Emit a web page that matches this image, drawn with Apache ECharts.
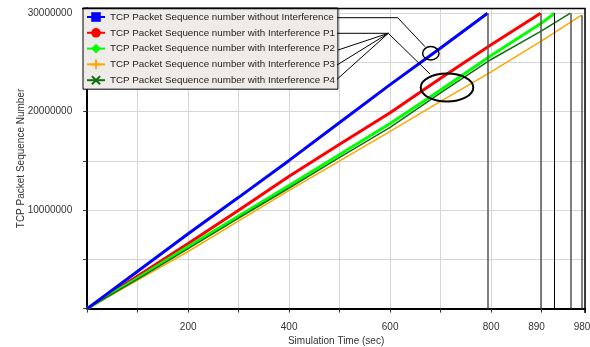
<!DOCTYPE html>
<html><head><meta charset="utf-8">
<script src="https://cdn.jsdelivr.net/npm/echarts@6/dist/echarts.min.js"></script>
<style>html,body{margin:0;padding:0;background:#fff}#c{width:590px;height:347px}</style>
</head><body><div id="c"></div>
<script>
// ---- data ----
const seriesNames = [
  'TCP Packet Sequence number without Interference',
  'TCP Packet Sequence number with Interference P1',
  'TCP Packet Sequence number with Interference P2',
  'TCP Packet Sequence number with Interference P3',
  'TCP Packet Sequence number with Interference P4'
];
const timeNoInt = [0, 100, 200, 300, 400, 500, 600, 700, 793];
const seqNoInt  = [0, 3800000, 7600000, 11300000, 15050000, 18900000, 22750000, 26460000, 30000000];
const timeP1 = [0, 100, 200, 300, 400, 500, 600, 700, 800, 898];
const seqP1  = [0, 3300000, 6600000, 10000000, 13450000, 16700000, 19900000, 23400000, 26800000, 30000000];
const timeP2 = [0, 100, 200, 300, 400, 500, 600, 700, 800, 900, 926];
const seqP2  = [0, 3100000, 6300000, 9400000, 12500000, 15650000, 18800000, 22200000, 25700000, 29000000, 30000000];
const timeP3 = [0, 100, 200, 300, 400, 500, 600, 700, 800, 900, 979];
const seqP3  = [0, 2900000, 5800000, 8900000, 12000000, 15000000, 18000000, 21050000, 24050000, 27200000, 29800000];
const timeP4 = [0, 100, 200, 300, 400, 500, 600, 700, 800, 900, 957];
const seqP4  = [0, 3000000, 6100000, 9200000, 12250000, 15350000, 18400000, 21900000, 25300000, 28200000, 30000000];
const xTickLabels = [200, 400, 600, 800, 890, 980];
const yTickLabels = [10000000, 20000000, 30000000];

// ---- styles ----
const FONT = 'Liberation Sans, Arial, sans-serif';
const plusPath = 'path://M4,0H6V4H10V6H6V10H4V6H0V4H4Z';
const xPath = 'path://M1.5,0L5,3.5L8.5,0L10,1.5L6.5,5L10,8.5L8.5,10L5,6.5L1.5,10L0,8.5L3.5,5L0,1.5Z';
const styles = [
  {color: '#0000ff', width: 3, symbol: 'rect', drop: '#555', dropW: 1.5},
  {color: '#ff0000', width: 3, symbol: 'circle', drop: '#555', dropW: 1.5},
  {color: '#00ff00', width: 3, symbol: 'diamond', drop: '#000', dropW: 1},
  {color: '#ffa500', width: 1.5, symbol: plusPath, drop: '#555', dropW: 1.5},
  {color: '#107010', width: 1.5, symbol: xPath, drop: '#555', dropW: 1.5}
];
const times = [timeNoInt, timeP1, timeP2, timeP3, timeP4];
const seqs = [seqNoInt, seqP1, seqP2, seqP3, seqP4];

const series = seriesNames.map((name, i) => {
  const t = times[i], s = seqs[i];
  const last = t.length - 1;
  return {
    name, type: 'line', showSymbol: false, symbol: styles[i].symbol,
    data: t.map((x, k) => [x, s[k]]),
    lineStyle: {color: styles[i].color, width: styles[i].width},
    itemStyle: {color: styles[i].color},
    z: 3 + (i === 0 ? 1 : 0),
    markLine: {
      silent: true, symbol: 'none', label: {show: false},
      lineStyle: {color: styles[i].drop, width: styles[i].dropW, type: 'solid'},
      data: [[{coord: [t[last], s[last]]}, {coord: [t[last], 0]}]]
    }
  };
});

const chart = echarts.init(document.getElementById('c'));
chart.setOption({
  animation: false,
  backgroundColor: '#fff',
  grid: {left: 87.2, right: 5, top: 8.3, bottom: 38.4, containLabel: false, outerBoundsMode: 'none'},
  xAxis: {
    type: 'value', min: 0, max: 986, interval: 100,
    offset: 4,
    name: 'Simulation Time (sec)', nameLocation: 'middle', nameGap: 24, nameMoveOverlap: false,
    nameTextStyle: {fontFamily: FONT, fontSize: 10, color: '#333'},
    axisLine: {show: true, lineStyle: {color: '#000', width: 2}},
    axisTick: {show: true, length: 4, lineStyle: {color: '#333'}},
    axisLabel: {customValues: xTickLabels, fontFamily: FONT, fontSize: 10, color: '#333', margin: 10},
    splitLine: {show: true, showMinLine: false, lineStyle: {color: '#d6d6d6', width: 1}}
  },
  yAxis: {
    type: 'value', min: 0, max: 30500000, interval: 5000000,
    offset: 5,
    name: 'TCP Packet Sequence Number', nameLocation: 'middle', nameGap: 56, nameRotate: 90, nameMoveOverlap: false,
    nameTextStyle: {fontFamily: FONT, fontSize: 10, color: '#333'},
    axisLine: {show: true, lineStyle: {color: '#000', width: 2}},
    axisTick: {show: true, length: 4, lineStyle: {color: '#333'}},
    axisLabel: {customValues: yTickLabels, formatter: v => String(v), fontFamily: FONT, fontSize: 10, color: '#333', margin: 10},
    splitLine: {show: true, showMinLine: false, lineStyle: {color: '#d6d6d6', width: 1}}
  },
  legend: {
    orient: 'vertical', left: 83, top: 8,
    backgroundColor: '#eeebe8', borderColor: '#000', borderWidth: 1,
    padding: [3, 3, 3, 3], itemWidth: 18, itemHeight: 12, itemGap: 3.8,
    textStyle: {fontFamily: FONT, fontSize: 9.8, color: '#222', lineHeight: 12},
    data: seriesNames
  },
  graphic: [
    {type: 'polyline', z: 100, shape: {points: [[82, 8.5], [585, 8.5], [585, 313]]}, style: {stroke: '#000', lineWidth: 1.5, fill: null}},
    {type: 'polyline', z: 100, shape: {points: [[337, 17.7], [397.7, 17.7], [425, 46.7]]}, style: {stroke: '#000', lineWidth: 1, fill: null}},
    {type: 'polyline', z: 100, shape: {points: [[337, 33.3], [388.3, 33.3], [430, 74]]}, style: {stroke: '#000', lineWidth: 1, fill: null}},
    {type: 'line', z: 100, shape: {x1: 388.3, y1: 33.3, x2: 338, y2: 50}, style: {stroke: '#000', lineWidth: 1}},
    {type: 'line', z: 100, shape: {x1: 388.3, y1: 33.3, x2: 337, y2: 65}, style: {stroke: '#000', lineWidth: 1}},
    {type: 'line', z: 100, shape: {x1: 388.3, y1: 33.3, x2: 337, y2: 79.3}, style: {stroke: '#000', lineWidth: 1}},
    {type: 'ellipse', z: 100, shape: {cx: 430.8, cy: 53.3, rx: 8.2, ry: 6.7}, style: {stroke: '#000', lineWidth: 1.5, fill: null}},
    {type: 'ellipse', z: 100, shape: {cx: 447, cy: 87.5, rx: 26.3, ry: 14}, style: {stroke: '#000', lineWidth: 2, fill: null}}
  ],
  series
});
</script></body></html>
